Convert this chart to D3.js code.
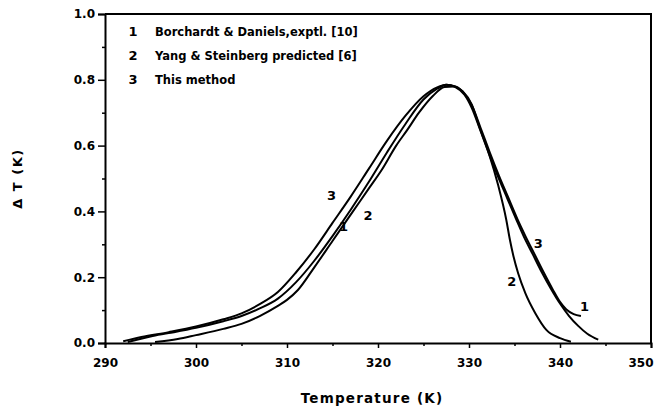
<!DOCTYPE html>
<html lang="en">
<head>
  <meta charset="UTF-8">
  <style>
    body { margin: 0; background: #fff; }
    .chart text {
      font-family: "DejaVu Sans", sans-serif;
      font-weight: bold;
      fill: #000;
    }
    .curve {
      fill: none;
      stroke: #000;
      stroke-width: 2;
    }
  </style>
</head>
<body>
  <svg class="chart"></svg>
  <script src="https://cdnjs.cloudflare.com/ajax/libs/d3/7.8.5/d3.min.js"></script>
  <script>
    // tick labels
    const xTicks = [290, 300, 310, 320, 330, 340, 350]
    const yTicks = [0, 0.2, 0.4, 0.6, 0.8, 1.0]

    // curve 1: Borchardt & Daniels, exptl.
    const exptlT = [292.5, 295, 297, 300, 303, 305, 307, 309, 311, 313, 315, 317, 319, 321, 323, 325, 326.5, 327.5, 328.5, 329.5, 330.4, 331.3, 332.3, 333.3, 334.3, 335.3, 336.2, 337.2, 338.2, 339.2, 340, 340.7, 341.5, 342.3]
    const exptlDT = [0.003, 0.02, 0.03, 0.046, 0.066, 0.082, 0.105, 0.135, 0.185, 0.25, 0.325, 0.405, 0.49, 0.58, 0.665, 0.74, 0.773, 0.785, 0.78, 0.757, 0.717, 0.652, 0.578, 0.508, 0.443, 0.378, 0.325, 0.27, 0.215, 0.163, 0.125, 0.102, 0.088, 0.082]

    // curve 2: Yang & Steinberg predicted
    const yangT = [295.5, 298, 300, 303, 305, 307, 309, 310, 311.2, 313, 315, 317, 319, 320.4, 322, 323.2, 324.5, 326, 327.3, 328.3, 329.3, 330.3, 331.2, 332.2, 333.2, 334.1, 334.5, 334.9, 335.4, 336.2, 337.3, 338.5, 340, 341.2]
    const yangDT = [0.003, 0.012, 0.024, 0.043, 0.058, 0.082, 0.113, 0.131, 0.161, 0.23, 0.31, 0.39, 0.47, 0.526, 0.6, 0.647, 0.7, 0.75, 0.778, 0.78, 0.765, 0.725, 0.652, 0.575, 0.48, 0.374, 0.313, 0.262, 0.212, 0.151, 0.09, 0.04, 0.015, 0.004]

    // curve 3: this method
    const methodT = [292, 294, 297, 300, 303, 305, 307, 309, 311, 313, 315, 317, 319, 321, 323, 325, 326.5, 327.5, 328.5, 329.5, 330.3, 331.2, 332.2, 333.2, 334.2, 335.2, 336, 337, 338, 339, 340, 341, 342, 343, 344.2]
    const methodDT = [0.005, 0.018, 0.033, 0.05, 0.072, 0.09, 0.118, 0.155, 0.215, 0.285, 0.365, 0.445, 0.53, 0.615, 0.69, 0.75, 0.777, 0.785, 0.778, 0.755, 0.715, 0.65, 0.575, 0.505, 0.44, 0.375, 0.325, 0.27, 0.215, 0.165, 0.12, 0.082, 0.052, 0.028, 0.01]

    // legend
    const legendNums = ['1', '2', '3']
    const legendNames = ['Borchardt & Daniels,exptl. [10]', 'Yang & Steinberg predicted [6]', 'This method']

    // curve number labels (placed in data coords)
    const tagText = ['3', '1', '2', '3', '2', '1']
    const tagT = [314.9, 316.2, 318.9, 337.6, 334.7, 342.7]
    const tagDT = [0.45, 0.354, 0.389, 0.304, 0.187, 0.11]

    const W = 656, H = 408
    const plot = { left: 105, right: 651, top: 14, bottom: 343 }

    const x = d3.scaleLinear().domain([290, 350]).range([plot.left, plot.right])
    const y = d3.scaleLinear().domain([0, 1]).range([plot.bottom, plot.top])

    const svg = d3.select('.chart')
        .attr('width', W)
        .attr('height', H)

    // frame (top + right)
    svg.append('path')
      .attr('d', `M${plot.left},${plot.top}H${plot.right}V${plot.bottom}`)
      .attr('fill', 'none').attr('stroke', '#000').attr('stroke-width', 2)

    // x axis
    const gx = svg.append('g').attr('transform', `translate(0,${plot.bottom})`)
    gx.call(d3.axisBottom(x).tickValues(d3.range(295, 350, 10)).tickSize(3).tickFormat(''))
    gx.call(g => g.select('.domain').remove())
    const gx2 = svg.append('g').attr('transform', `translate(0,${plot.bottom})`)
      .call(d3.axisBottom(x).tickValues(xTicks).tickSize(5).tickPadding(10).tickFormat(d3.format('d')))
    gx2.select('.domain').attr('stroke-width', 2)
    gx.selectAll('line').attr('stroke-width', 1.5)
    gx2.selectAll('line').attr('stroke-width', 1.5)
    gx2.selectAll('text').attr('font-size', 12).attr('fill', '#000')
      .attr('font-family', '"DejaVu Sans", sans-serif').attr('font-weight', 'bold')
    // last label kept inside the page edge
    gx2.selectAll('.tick').filter(d => d === 350).select('text')
      .attr('text-anchor', 'end').attr('x', 2)

    // y axis
    const gy = svg.append('g').attr('transform', `translate(${plot.left},0)`)
    gy.call(d3.axisLeft(y).tickValues([0.1, 0.3, 0.5, 0.7, 0.9]).tickSize(3).tickFormat(''))
    gy.call(g => g.select('.domain').remove())
    const gy2 = svg.append('g').attr('transform', `translate(${plot.left},0)`)
      .call(d3.axisLeft(y).tickValues(yTicks).tickSize(7).tickPadding(3).tickFormat(d3.format('.1f')))
    gy2.select('.domain').attr('stroke-width', 2)
    gy.selectAll('line').attr('stroke-width', 1.5)
    gy2.selectAll('line').attr('stroke-width', 1.5)
    gy2.selectAll('text').attr('font-size', 12).attr('fill', '#000')
      .attr('font-family', '"DejaVu Sans", sans-serif').attr('font-weight', 'bold')
    svg.selectAll('.domain').attr('stroke', '#000')

    // curves
    const line = d3.line()
      .x(d => x(d[0]))
      .y(d => y(d[1]))
      .curve(d3.curveMonotoneX)

    const series = [
      { t: exptlT, v: exptlDT, w: 2 },
      { t: yangT, v: yangDT, w: 1.8 },
      { t: methodT, v: methodDT, w: 2.4 }
    ]
    svg.selectAll('.curve')
      .data(series)
      .enter().append('path')
        .attr('class', 'curve')
        .attr('stroke-width', d => d.w)
        .attr('d', d => line(d3.zip(d.t, d.v)))

    // curve tags
    svg.selectAll('.tag')
      .data(tagText)
      .enter().append('text')
        .attr('class', 'tag')
        .attr('x', (d, i) => x(tagT[i]))
        .attr('y', (d, i) => y(tagDT[i]))
        .attr('dy', '0.35em')
        .attr('text-anchor', 'middle')
        .attr('font-size', 13)
        .text(d => d)

    // legend
    const leg = svg.selectAll('.leg')
      .data(legendNames)
      .enter().append('g')
        .attr('class', 'leg')
        .attr('transform', (d, i) => `translate(0,${36 + i * 24})`)
    leg.append('text')
      .attr('x', 133).attr('text-anchor', 'middle')
      .attr('font-size', 13)
      .text((d, i) => legendNums[i])
    leg.append('text')
      .attr('x', 155)
      .attr('font-size', 11.5)
      .text(d => d)

    // axis titles
    svg.append('text')
      .attr('x', 372)
      .attr('y', 403)
      .attr('text-anchor', 'middle')
      .attr('font-size', 13.5)
      .attr('letter-spacing', 1.2)
      .text('Temperature (K)')

    svg.append('text')
      .attr('transform', `translate(22,${(plot.top + plot.bottom) / 2}) rotate(-90)`)
      .attr('text-anchor', 'middle')
      .attr('font-size', 13)
      .attr('letter-spacing', 1.5)
      .text('Δ T (K)')
  </script>
</body>
</html>
